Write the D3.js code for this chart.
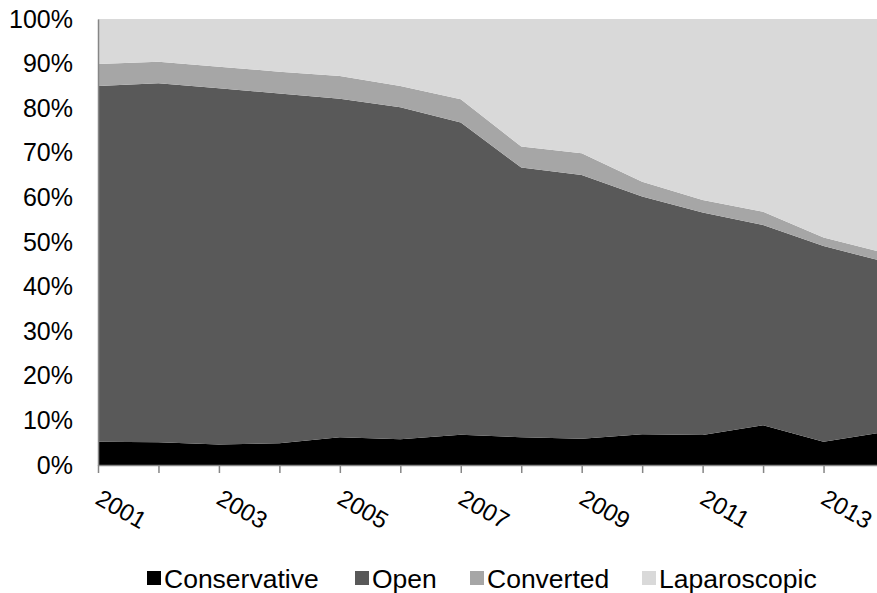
<!DOCTYPE html>
<html>
<head>
<meta charset="utf-8">
<script src="https://cdn.jsdelivr.net/npm/d3@7"></script>
<style>
  html, body { margin: 0; padding: 0; background: #fff; }
  svg { display: block; }
  text { font-family: "Liberation Sans", Arial, sans-serif; fill: #000; }
</style>
</head>
<body>
<svg id="chart" width="877" height="593"></svg>
<script>
const years = [2001, 2002, 2003, 2004, 2005, 2006, 2007, 2008, 2009, 2010, 2011, 2012, 2013, 2014];
const seriesNames = ["Conservative", "Open", "Converted", "Laparoscopic"];
const conservative = [5.2, 5.1, 4.6, 4.9, 6.2, 5.8, 6.8, 6.2, 5.9, 6.9, 6.7, 8.9, 5.2, 7.4];
const open         = [79.8, 80.5, 79.9, 78.4, 75.9, 74.4, 70.0, 60.5, 59.1, 53.3, 49.9, 44.9, 43.9, 38.2];
const converted    = [4.9, 4.8, 4.8, 4.9, 5.1, 4.8, 5.2, 4.7, 4.9, 3.3, 2.8, 3.0, 1.9, 2.0];
const laparoscopic = [10.1, 9.6, 10.7, 11.8, 12.8, 15.0, 18.0, 28.6, 30.1, 36.5, 40.6, 43.2, 49.0, 52.4];
const yTicks = [0, 10, 20, 30, 40, 50, 60, 70, 80, 90, 100];
const xLabelYears = [2001, 2003, 2005, 2007, 2009, 2011, 2013];
const colors = ["#000000", "#595959", "#a6a6a6", "#d9d9d9"];

const rows = years.map((y, i) => ({
  year: y,
  Conservative: conservative[i],
  Open: open[i],
  Converted: converted[i],
  Laparoscopic: laparoscopic[i]
}));

const svg = d3.select("#chart");
const x = d3.scaleLinear().domain([2001, 2014]).range([98, 884]);
const y = d3.scaleLinear().domain([0, 100]).range([465, 19]);

const stack = d3.stack().keys(seriesNames);
const layers = stack(rows);

const area = d3.area()
  .x(d => x(d.data.year))
  .y0(d => y(d[0]))
  .y1(d => y(d[1]));

svg.append("g").selectAll("path")
  .data(layers)
  .join("path")
  .attr("d", area)
  .attr("fill", (d, i) => colors[i]);

// Y axis
const yAxis = svg.append("g").attr("transform", "translate(98,0)")
  .call(d3.axisLeft(y).tickValues(yTicks).tickSize(0).tickPadding(25).tickFormat(d => d + "%"));
yAxis.select(".domain").attr("stroke", "#868686").attr("stroke-width", 1.5);
yAxis.selectAll("text").style("font-size", "25px").attr("fill", "#000");

// X axis
const xAxis = svg.append("g").attr("transform", "translate(0,465)")
  .call(d3.axisBottom(x).tickValues(years).tickSize(8).tickSizeOuter(0).tickFormat(""));
xAxis.select(".domain").attr("stroke", "#868686").attr("stroke-width", 1.5);
xAxis.selectAll(".tick line").attr("stroke", "#868686").attr("stroke-width", 1.5);

svg.append("g").selectAll("text")
  .data(xLabelYears)
  .join("text")
  .attr("transform", d => `translate(${x(d) - 4},503) rotate(30)`)
  .style("font-size", "24px")
  .text(d => d);

// Legend
const legendX = [147, 355, 470, 642];
const legend = svg.append("g");
seriesNames.forEach((name, i) => {
  const g = legend.append("g").attr("transform", `translate(${legendX[i]},578)`);
  g.append("rect").attr("x", 0).attr("y", -7).attr("width", 14).attr("height", 14).attr("fill", colors[i]);
  g.append("text").attr("x", 17).attr("y", 9.5).style("font-size", "26.5px").text(name);
});
</script>
</body>
</html>
